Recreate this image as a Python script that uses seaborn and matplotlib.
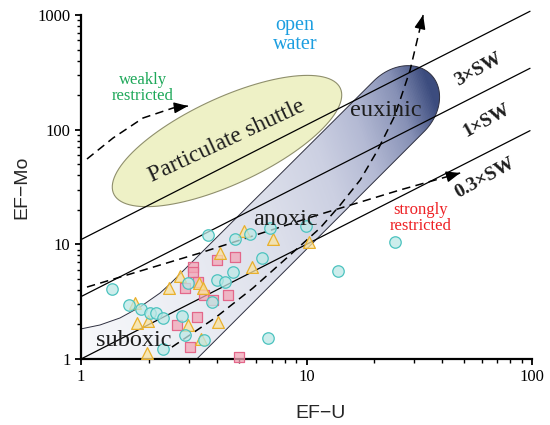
"""EF-Mo vs EF-U covariation plot (Algeo & Tribovillard style template)."""

import matplotlib

matplotlib.use("Agg")

import matplotlib.pyplot as plt
import numpy as np
import pandas as pd
import seaborn as sns
from matplotlib.colors import LinearSegmentedColormap, to_rgba
from matplotlib.patches import Polygon
from matplotlib.ticker import FuncFormatter, LogLocator, NullFormatter

# sample enrichment factors
circle_u = [1.37, 1.64, 1.85, 2.03, 2.15, 2.30, 2.32, 2.80, 2.89, 3.52, 2.99, 3.80,
            4.00, 4.37, 4.74, 6.37, 3.67, 4.82, 5.61, 6.87, 9.90, 24.7, 13.8, 6.75]
circle_mo = [4.10, 2.96, 2.75, 2.50, 2.50, 2.30, 1.23, 2.39, 1.62, 1.46, 4.57, 3.14,
             4.89, 4.72, 5.77, 7.55, 12.1, 11.1, 12.2, 13.8, 14.4, 10.5, 5.89, 1.52]
triangle_u = [1.74, 2.46, 2.76, 3.34, 3.46, 1.78, 1.99, 2.97, 4.06, 1.96, 3.39, 4.13,
              5.26, 5.71, 7.12, 10.3]
triangle_mo = [3.10, 4.20, 5.30, 4.60, 4.18, 2.06, 2.13, 1.98, 2.11, 1.13, 1.49, 8.35,
               13.1, 6.28, 11.1, 10.4]
square_u = [3.15, 3.13, 4.00, 4.84, 3.31, 2.89, 3.52, 3.83, 4.47, 3.26, 2.67, 3.05, 5.03]
square_mo = [6.38, 5.77, 7.30, 7.76, 4.72, 4.20, 3.61, 3.27, 3.65, 2.31, 1.98, 1.26, 1.04]

# Mo/U reference lines (multiples of seawater ratio)
sw_ratio = [11.0, 3.5, 1.0]
sw_label = ["3×SW", "1×SW", "0.3×SW"]
sw_u_range = [1.0, 98.0]

# schematic trend arrows
weak_u = [1.063, 1.387, 1.884, 2.558, 2.98]
weak_mo = [55.5, 84.6, 126.4, 154.5, 160.8]
strong_u = [1.063, 3.37, 11.2, 26.0, 48.0]
strong_mo = [4.24, 8.40, 18.0, 29.8, 41.9]
euxinic_u = [2.53, 3.93, 5.79, 8.45, 11.5, 14.1, 17.3, 20.7, 24.7, 28.8, 32.9]
euxinic_mo = [1.27, 2.28, 4.16, 8.07, 13.9, 22.0, 36.4, 66.5, 134, 331, 1000]

# redox field envelope (lower-left flare and band edge anchors)
flare_u = [2.48, 2.24, 1.826, 1.489, 1.214, 1.0, 0.8, 0.8, 2.886]
flare_mo = [4.51, 3.76, 2.84, 2.28, 1.98, 1.83, 1.8, 0.786, 0.786]

samples = pd.concat([
    pd.DataFrame({"EF_U": square_u, "EF_Mo": square_mo, "group": "square"}),
    pd.DataFrame({"EF_U": triangle_u, "EF_Mo": triangle_mo, "group": "triangle"}),
    pd.DataFrame({"EF_U": circle_u, "EF_Mo": circle_mo, "group": "circle"}),
])

marker_styles = {
    "square": dict(marker="s", s=58, face="#f2a5b6", edge="#e3678a"),
    "triangle": dict(marker="^", s=72, face="#f9e2a0", edge="#e9b02c"),
    "circle": dict(marker="o", s=68, face="#bde8e6", edge="#4cc3bf"),
}


def ellipse_path(ax, center, width, height, angle, start=0, stop=360, n=120):
    """Screen-space ellipse anchored at a data point, returned in data units."""
    cx, cy = ax.transData.transform(center)
    t = np.radians(np.linspace(start, stop, n))
    a = np.radians(angle)
    x = width / 2 * np.cos(t)
    y = height / 2 * np.sin(t)
    pts = np.column_stack([cx + x * np.cos(a) - y * np.sin(a),
                           cy + x * np.sin(a) + y * np.cos(a)])
    return ax.transData.inverted().transform(pts)


def arrow_head(ax, xs, ys, back=9):
    """Put a filled arrow head at the end of a polyline."""
    end = ax.transData.transform((xs[-1], ys[-1]))
    prev = ax.transData.transform((xs[-2], ys[-2]))
    d = (end - prev) / np.hypot(*(end - prev))
    start = ax.transData.inverted().transform(end - back * d)
    ax.annotate("", xy=(xs[-1], ys[-1]), xytext=start, annotation_clip=False,
                arrowprops=dict(arrowstyle="-|>,head_length=0.7,head_width=0.28",
                                color="black", lw=1, shrinkA=0, shrinkB=0,
                                mutation_scale=12), zorder=6)


sns.set_theme(style="ticks")
plt.rcParams["font.family"] = ["Liberation Serif", "DejaVu Serif"]

fig = plt.figure(figsize=(5.5, 4.25), dpi=100)
ax = fig.add_axes([0.1473, 0.1553, 0.82, 0.8094])
ax.set_xscale("log")
ax.set_yscale("log")
ax.set_xlim(1, 100)
ax.set_ylim(1, 1000)

# particulate shuttle field
shuttle = Polygon(ellipse_path(ax, (4.44, 79.6), 250, 86, 25), closed=True,
                  facecolor="#eef1c6", edgecolor="#8f8f6c", lw=0.8, zorder=1.5)
ax.add_patch(shuttle)

# suboxic-anoxic-euxinic band with gradient fill
cap = ellipse_path(ax, (25.7, 160), 90, 71.4, 45, start=-90, stop=90)
band_verts = np.vstack([[flare_u[-1], flare_mo[-1]], cap,
                        np.column_stack([flare_u[:-1], flare_mo[:-1]])])
band = Polygon(band_verts, closed=True, facecolor="none", edgecolor="#2f3040",
               lw=0.7, zorder=2)
ax.add_patch(band)

fig_h = fig.get_figheight() * fig.dpi
bbox = ax.get_window_extent()
nx, ny = int(bbox.width), int(bbox.height)
gx = bbox.x0 + np.arange(nx) + 0.5
gy = fig_h - (bbox.y1 - np.arange(ny) - 0.5)
GX, GY = np.meshgrid(gx, gy)
shade = np.clip((GX - 0.35 * GY + 45) / 445, 0, 1)
band_cmap = LinearSegmentedColormap.from_list(
    "band", [(0, "#f8f9fb"), (0.3, "#eaecf3"), (0.55, "#dbdeea"), (0.7, "#ccd0e2"),
             (0.81, "#b4bad4"), (0.92, "#8791b6"), (1.0, "#3c4c7e")])
im = ax.imshow(shade, cmap=band_cmap, vmin=0, vmax=1, extent=(0, 1, 0, 1),
               transform=ax.transAxes, aspect="auto", interpolation="bilinear",
               zorder=1)
im.set_clip_path(band)

# seawater ratio lines
for ratio in sw_ratio:
    ax.plot(sw_u_range, [ratio * u for u in sw_u_range], color="black", lw=0.9,
            zorder=3, clip_on=False)

# trend arrows
for xs, ys in [(weak_u, weak_mo), (strong_u, strong_mo), (euxinic_u, euxinic_mo)]:
    ax.plot(xs, ys, color="black", lw=1.1, dashes=(5.5, 3.5), zorder=3.5,
            clip_on=False)
    arrow_head(ax, xs, ys)

# samples
for name, st in marker_styles.items():
    sns.scatterplot(data=samples[samples["group"] == name], x="EF_U", y="EF_Mo",
                    marker=st["marker"], s=st["s"], color=to_rgba(st["face"], 0.75),
                    edgecolor=st["edge"], linewidth=0.9, ax=ax, zorder=4,
                    clip_on=False, legend=False)

ax.set_xlim(1, 100)
ax.set_ylim(1, 1000)

# annotations
dark = "#1e1e1e"
ax.text(4.44, 79.6, "Particulate shuttle", fontsize=17, rotation=25,
        rotation_mode="anchor", ha="center", va="center", color=dark, zorder=5)
ax.text(22.5, 148, "euxinic", fontsize=17.5, ha="center", va="center", color=dark, zorder=5)
ax.text(8.03, 16.5, "anoxic", fontsize=17.5, ha="center", va="center", color=dark, zorder=5)
ax.text(1.72, 1.46, "suboxic", fontsize=17.5, ha="center", va="center", color=dark, zorder=5)
ax.text(8.89, 669, "open\nwater", fontsize=14.5, ha="center", va="center",
        color="#1c9ee0", linespacing=1.05, zorder=5)
ax.text(1.88, 231, "weakly\nrestricted", fontsize=12, ha="center", va="center",
        color="#1fa85a", linespacing=1.05, zorder=5)
ax.text(32.2, 17.0, "strongly\nrestricted", fontsize=12, ha="center", va="center",
        color="#ee2024", linespacing=1.05, zorder=5)

sw_pos = [(57.6, 331), (63.0, 121), (61.9, 37.7)]
for label, (u, mo) in zip(sw_label, sw_pos):
    ax.text(u, mo, label, fontsize=14, fontweight="bold", rotation=29,
            rotation_mode="anchor", ha="center", va="center", color=dark, zorder=5)

# axes styling
for side in ["top", "right"]:
    ax.spines[side].set_visible(False)
for side in ["left", "bottom"]:
    ax.spines[side].set_color("black")
    ax.spines[side].set_linewidth(1.6)

for axis in [ax.xaxis, ax.yaxis]:
    axis.set_major_locator(LogLocator(base=10))
    axis.set_minor_locator(LogLocator(base=10, subs=range(2, 10)))
    axis.set_major_formatter(FuncFormatter(lambda v, _: f"{v:g}"))
    axis.set_minor_formatter(NullFormatter())

ax.tick_params(which="major", direction="out", length=4.5, width=1.3, color="black",
               labelsize=12, labelcolor="black", pad=3)
ax.tick_params(which="minor", direction="out", length=2.8, width=1.0, color="black")

ax.set_xlabel("EF−U", family="Liberation Sans", fontsize=14, labelpad=8)
ax.set_ylabel("EF−Mo", family="Liberation Sans", fontsize=14, labelpad=5)
ax.xaxis.set_label_coords(0.532, -0.135)

fig.savefig("out.png", dpi=100, facecolor="white")
